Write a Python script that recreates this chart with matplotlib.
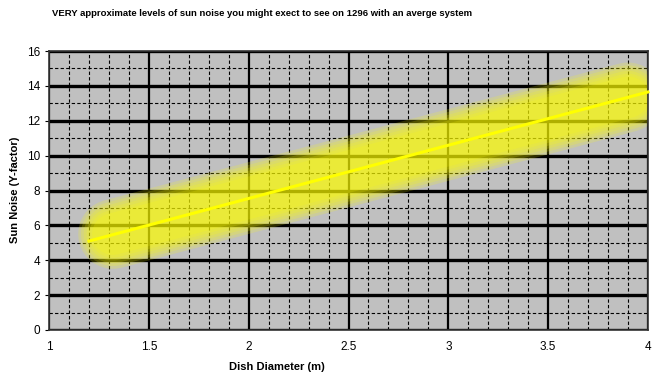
import matplotlib
matplotlib.use("Agg")
import matplotlib.pyplot as plt
import numpy as np
from matplotlib.ticker import MultipleLocator

plt.rcParams['font.family'] = ['Liberation Sans', 'DejaVu Sans']

# Data
line_x = [1.2, 4.0]
line_y = [5.1, 13.65]
band_x = [1.32, 3.9]
band_y = [5.5, 13.35]
x_ticks = [1, 1.5, 2, 2.5, 3, 3.5, 4]
x_tick_labels = ["1", "1.5", "2", "2.5", "3", "3.5", "4"]
y_ticks = [0, 2, 4, 6, 8, 10, 12, 14, 16]

fig = plt.figure(figsize=(6.58, 3.83), dpi=100)
ax = fig.add_axes([49/658, 53/383, 599/658, 279/383])
ax.set_facecolor('#C0C0C0')
ax.set_xlim(1, 4)
ax.set_ylim(0, 16)

ax.set_xticks(x_ticks)
ax.set_xticklabels(x_tick_labels)
ax.set_yticks(y_ticks)
ax.xaxis.set_minor_locator(MultipleLocator(0.1))
ax.yaxis.set_minor_locator(MultipleLocator(1))
ax.grid(which='major', axis='x', color='black', lw=1.6, ls='-')
ax.grid(which='major', axis='y', color='black', lw=2.4, ls='-')
ax.grid(which='minor', color='black', lw=0.8, ls=(0, (3, 2)))
ax.set_axisbelow(True)
ax.tick_params(axis='both', which='major', labelsize=8.5, length=3, color='black')
ax.tick_params(axis='x', which='major', length=0, pad=8)
ax.tick_params(axis='both', which='minor', length=0)
for s in ax.spines.values():
    s.set_color('#333333')
    s.set_linewidth(1.2)

# Soft yellow band
widths = [50, 46, 42, 38, 34, 30]
for w in widths:
    ax.plot(band_x, band_y, color='#FFFF00', lw=w, alpha=0.18,
            solid_capstyle='round', zorder=2)

ax.plot(line_x, line_y, color='#FFFF00', lw=2.2, zorder=3, clip_on=False)

fig.text(262/658, 1 - 13/383, "VERY approximate levels of sun noise you might exect to see on 1296 with an averge system",
         ha='center', va='center', fontsize=6.8, fontweight='bold')
fig.text(277/658, 1 - 367/383, "Dish Diameter (m)", ha='center', va='center',
         fontsize=8, fontweight='bold')
fig.text(15/658, 1 - 190/383, "Sun Noise (Y-factor)", ha='center', va='center',
         rotation=90, fontsize=8, fontweight='bold')

fig.savefig("out.png", dpi=100)
